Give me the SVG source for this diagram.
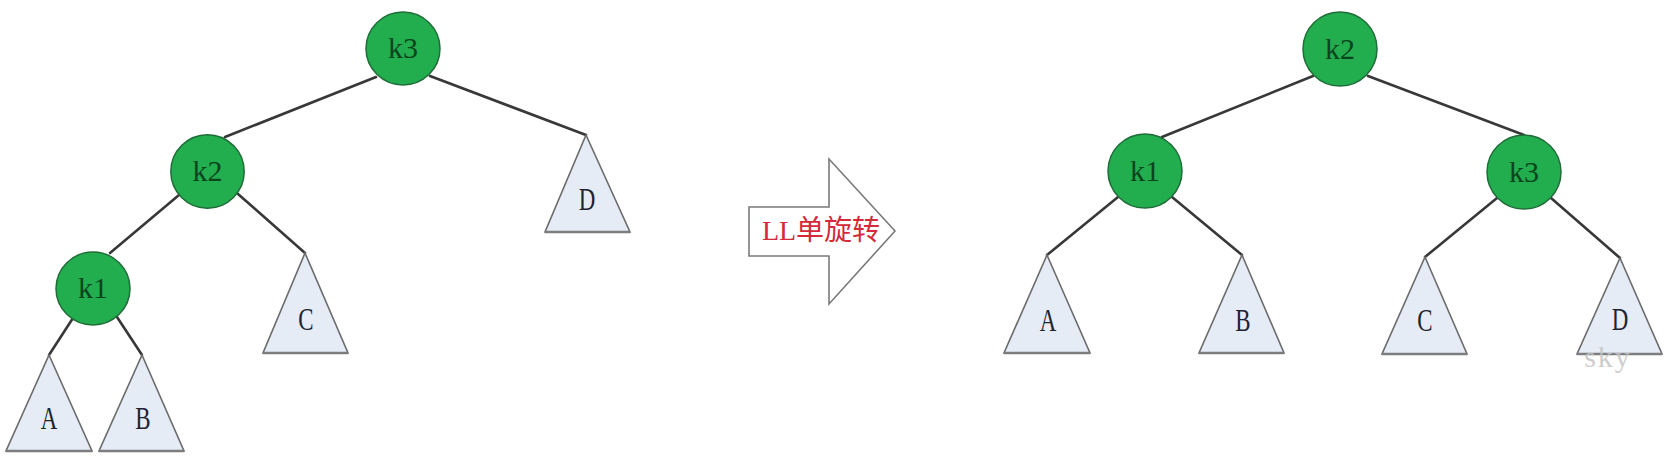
<svg xmlns="http://www.w3.org/2000/svg" width="1668" height="472" viewBox="0 0 1668 472">
<style>
.edge{stroke:#383838;stroke-width:2.6;fill:none;stroke-linecap:round}
.circ{fill:#22ad4e;stroke:#1f6d38;stroke-width:1.5}
.klbl{font-family:"Liberation Serif",serif;font-size:30px;fill:#0a451c;text-anchor:middle}
.tri{fill:#e5ecf6;stroke:#6b6b6b;stroke-width:1.6;stroke-linejoin:miter}
.base{stroke:#7d7d7d;stroke-width:2.6}
.tlbl{font-family:"Liberation Serif",serif;font-size:31px;fill:#1e2330;text-anchor:middle}
.arrow{fill:#ffffff;stroke:#7a7a7a;stroke-width:1.6}
.alb{font-family:"Liberation Serif","Noto Sans CJK SC",serif;font-size:28px;fill:#d42a3a;text-anchor:middle}
.wm{font-family:"Liberation Serif",serif;font-size:30px;fill:#c4c4c4;fill-opacity:0.85;text-anchor:middle;letter-spacing:2px}
</style>
<rect width="1668" height="472" fill="#ffffff"/>
<g id="connectors">
<line class="edge" x1="376" y1="77" x2="225" y2="137"/>
<line class="edge" x1="430" y1="76" x2="586" y2="135"/>
<line class="edge" x1="179" y1="195" x2="110" y2="253"/>
<line class="edge" x1="238" y1="194" x2="305" y2="253"/>
<line class="edge" x1="73" y1="318" x2="49" y2="355"/>
<line class="edge" x1="117" y1="317" x2="142" y2="355"/>
<line class="edge" x1="1313" y1="76" x2="1162" y2="137"/>
<line class="edge" x1="1368" y1="76" x2="1524" y2="135"/>
<line class="edge" x1="1118" y1="197" x2="1047" y2="255"/>
<line class="edge" x1="1172" y1="197" x2="1242" y2="255"/>
<line class="edge" x1="1497" y1="198" x2="1425" y2="257"/>
<line class="edge" x1="1551" y1="198" x2="1620" y2="258"/>
</g>
<g id="L-k3"><ellipse class="circ" cx="403" cy="48.5" rx="37" ry="36.5"/><text class="klbl" x="403" y="58">k3</text></g>
<g id="L-k2"><ellipse class="circ" cx="207.5" cy="171.5" rx="36.7" ry="36.7"/><text class="klbl" x="207.5" y="181">k2</text></g>
<g id="L-k1"><ellipse class="circ" cx="93" cy="288.5" rx="37" ry="36.5"/><text class="klbl" x="93" y="298">k1</text></g>
<g id="L-D"><polygon class="tri" points="586,135 630,232 545,232"/><line class="base" x1="545" y1="232" x2="630" y2="232"/><text class="tlbl" transform="translate(587,210) scale(0.74,1)">D</text></g>
<g id="L-C"><polygon class="tri" points="305,253 348,353 263,353"/><line class="base" x1="263" y1="353" x2="348" y2="353"/><text class="tlbl" transform="translate(306,330) scale(0.74,1)">C</text></g>
<g id="L-A"><polygon class="tri" points="49,355 92,451 6,451"/><line class="base" x1="6" y1="451" x2="92" y2="451"/><text class="tlbl" transform="translate(49,429) scale(0.74,1)">A</text></g>
<g id="L-B"><polygon class="tri" points="142,355 184,451 99,451"/><line class="base" x1="99" y1="451" x2="184" y2="451"/><text class="tlbl" transform="translate(143,429) scale(0.74,1)">B</text></g>
<g id="rotate-arrow"><polygon class="arrow" points="749,207 829,207 829,159 895,231 829,304 829,256 749,256"/><text class="alb" x="821" y="240">LL单旋转</text></g>
<g id="R-k2"><ellipse class="circ" cx="1340" cy="49" rx="37" ry="37"/><text class="klbl" x="1340" y="58.5">k2</text></g>
<g id="R-k1"><ellipse class="circ" cx="1145" cy="171" rx="37" ry="37"/><text class="klbl" x="1145" y="180.5">k1</text></g>
<g id="R-k3"><ellipse class="circ" cx="1524" cy="172" rx="37" ry="37"/><text class="klbl" x="1524" y="181.5">k3</text></g>
<g id="R-A"><polygon class="tri" points="1047,255 1090,353 1004,353"/><line class="base" x1="1004" y1="353" x2="1090" y2="353"/><text class="tlbl" transform="translate(1048,331) scale(0.74,1)">A</text></g>
<g id="R-B"><polygon class="tri" points="1242,255 1284,353 1199,353"/><line class="base" x1="1199" y1="353" x2="1284" y2="353"/><text class="tlbl" transform="translate(1243,331) scale(0.74,1)">B</text></g>
<g id="R-C"><polygon class="tri" points="1425,257 1467,354 1382,354"/><line class="base" x1="1382" y1="354" x2="1467" y2="354"/><text class="tlbl" transform="translate(1425,331) scale(0.74,1)">C</text></g>
<g id="R-D"><polygon class="tri" points="1620,258 1662,354 1577,354"/><line class="base" x1="1577" y1="354" x2="1662" y2="354"/><text class="tlbl" transform="translate(1620,330) scale(0.74,1)">D</text></g>
<text class="wm" x="1608" y="367">sky</text>
</svg>
